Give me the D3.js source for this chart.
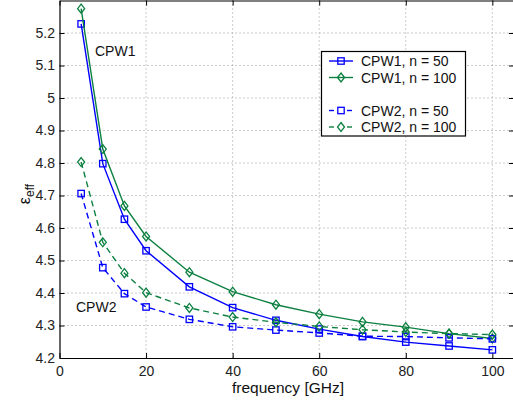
<!DOCTYPE html>
<html><head><meta charset="utf-8">
<script src="https://cdn.jsdelivr.net/npm/d3@7"></script>
<style>body{margin:0;background:#fff}svg{display:block}text{font-family:"Liberation Sans",Arial,sans-serif}</style>
</head><body>
<svg id="c" width="513" height="407"></svg>
<script>
const freq = [5,10,15,20,30,40,50,60,70,80,90,100];
const cpw1_n50  = [5.228,4.798,4.627,4.530,4.419,4.355,4.316,4.289,4.266,4.249,4.237,4.225];
const cpw1_n100 = [5.275,4.843,4.668,4.574,4.464,4.404,4.364,4.335,4.311,4.295,4.275,4.260];
const cpw2_n50  = [4.706,4.478,4.398,4.357,4.319,4.296,4.286,4.277,4.267,4.266,4.262,4.259];
const cpw2_n100 = [4.803,4.556,4.461,4.401,4.354,4.326,4.310,4.297,4.287,4.280,4.275,4.272];
const xTicks = [0,20,40,60,80,100];
const yTicks = [4.2,4.3,4.4,4.5,4.6,4.7,4.8,4.9,5,5.1,5.2];
const seriesNames = ["CPW1, n = 50","CPW1, n = 100","CPW2, n = 50","CPW2, n = 100"];

const BLUE = "#0000ff", GREEN = "#0b8040";
const series = [
  {name: seriesNames[0], vals: cpw1_n50,  color: BLUE,  marker: "square",  dash: null},
  {name: seriesNames[1], vals: cpw1_n100, color: GREEN, marker: "diamond", dash: null},
  {name: seriesNames[2], vals: cpw2_n50,  color: BLUE,  marker: "square",  dash: "6,4"},
  {name: seriesNames[3], vals: cpw2_n100, color: GREEN, marker: "diamond", dash: "6,4"}
];

const svg = d3.select("#c");
const L = 59.5, R = 514, T = 0.5, B = 358;
const x = d3.scaleLinear().domain([0,105]).range([L,R]);
const y = d3.scaleLinear().domain([4.2,5.3]).range([B,T]);
const FS = 14;

// grid
const g = svg.append("g");
g.selectAll(".gx").data(xTicks.slice(1)).join("line")
  .attr("x1", d=>x(d)).attr("x2", d=>x(d)).attr("y1", T).attr("y2", B)
  .attr("stroke","#999").attr("stroke-width",1).attr("stroke-dasharray","1,3");
g.selectAll(".gy").data(yTicks.slice(1)).join("line")
  .attr("x1", L).attr("x2", R).attr("y1", d=>y(d)).attr("y2", d=>y(d))
  .attr("stroke","#999").attr("stroke-width",1).attr("stroke-dasharray","1,3");

// axes
const xAx = d3.axisBottom(x).tickValues(xTicks).tickSizeInner(-5).tickSizeOuter(0).tickPadding(8).tickFormat(d3.format("d"));
const yAx = d3.axisLeft(y).tickValues(yTicks).tickSizeInner(-5).tickSizeOuter(0).tickPadding(4.5).tickFormat(d=>String(+d.toFixed(1)));
const gx = svg.append("g").attr("transform",`translate(0,${B})`).call(xAx);
const gy = svg.append("g").attr("transform",`translate(${L},0)`).call(yAx);
const gxT = svg.append("g").attr("transform",`translate(0,${T})`).call(d3.axisTop(x).tickValues(xTicks).tickSizeInner(-5).tickSizeOuter(0).tickFormat(""));
const gyR = svg.append("g").attr("transform",`translate(${R},0)`).call(d3.axisRight(y).tickValues(yTicks).tickSizeInner(-5).tickSizeOuter(0).tickFormat(""));
[gx,gy,gxT,gyR].forEach(a=>{
  a.selectAll("path").attr("stroke","#000").attr("stroke-width",1.2);
  a.selectAll("line").attr("stroke","#000");
  a.selectAll("text").attr("font-size",FS).attr("fill","#222").attr("font-family",'"Liberation Sans",Arial,sans-serif');
});

// lines and markers
const line = d3.line().x((d,i)=>x(freq[i])).y(d=>y(d));
function drawMarker(sel, type, color){
  if(type==="square"){
    sel.append("rect").attr("x",-3.2).attr("y",-3.2).attr("width",6.4).attr("height",6.4)
      .attr("fill","none").attr("stroke",color).attr("stroke-width",1.3);
  } else {
    sel.append("path").attr("d","M0,-4.5L3.5,0L0,4.5L-3.5,0Z")
      .attr("fill","none").attr("stroke",color).attr("stroke-width",1.3);
  }
}
series.forEach(s=>{
  svg.append("path").datum(s.vals).attr("d",line).attr("fill","none")
    .attr("stroke",s.color).attr("stroke-width",1.4)
    .attr("stroke-dasharray", s.dash);
  s.vals.forEach((v,i)=>{
    const m = svg.append("g").attr("transform",`translate(${x(freq[i])},${y(v)})`);
    drawMarker(m, s.marker, s.color);
  });
});

// annotations
svg.append("text").attr("x",95).attr("y",55.5).attr("font-size",FS).attr("fill","#111").text("CPW1");
svg.append("text").attr("x",76).attr("y",311.5).attr("font-size",FS).attr("fill","#111").text("CPW2");

// legend
const lg = svg.append("g");
lg.append("rect").attr("x",321.5).attr("y",51.5).attr("width",144).attr("height",84.5)
  .attr("fill","#fff").attr("stroke","#000").attr("stroke-width",1.2);
const rowsY = [61, 77.5, 110.5, 127];
series.forEach((s,i)=>{
  const yy = rowsY[i];
  if(s.dash){
    lg.append("line").attr("x1",329).attr("x2",334).attr("y1",yy).attr("y2",yy).attr("stroke",s.color).attr("stroke-width",1.4);
    lg.append("line").attr("x1",347).attr("x2",352).attr("y1",yy).attr("y2",yy).attr("stroke",s.color).attr("stroke-width",1.4);
  } else {
    lg.append("line").attr("x1",329).attr("x2",353).attr("y1",yy).attr("y2",yy).attr("stroke",s.color).attr("stroke-width",1.4);
  }
  const m = lg.append("g").attr("transform",`translate(341,${yy})`);
  drawMarker(m, s.marker, s.color);
  lg.append("text").attr("x",361).attr("y",yy+5).attr("font-size",FS).attr("fill","#111").text(s.name);
});

// axis labels
svg.append("text").attr("x",288).attr("y",393).attr("text-anchor","middle").attr("font-size",15.5).attr("fill","#111").text("frequency [GHz]");
const yl = svg.append("text").attr("transform","translate(30,194) rotate(-90)").attr("text-anchor","middle").attr("font-size",16).attr("fill","#111");
yl.append("tspan").text("ε");
yl.append("tspan").attr("font-size",12).attr("dy",4).text("eff");
</script>
</body></html>
